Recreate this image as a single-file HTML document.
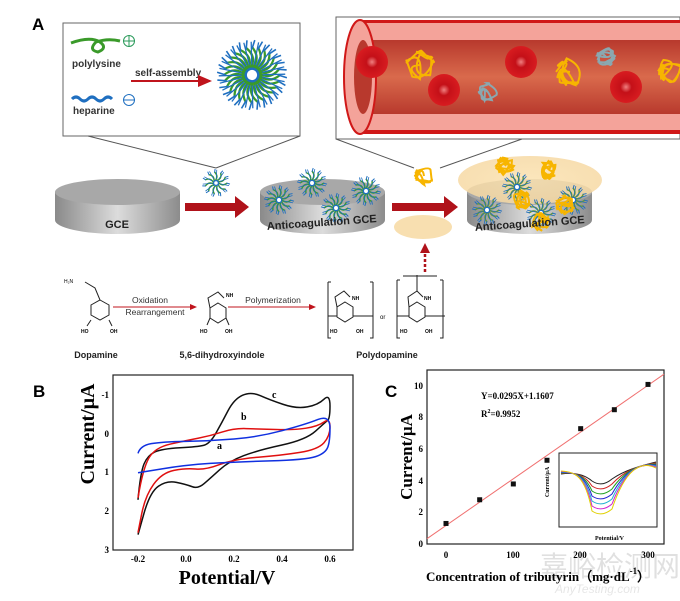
<!DOCTYPE html>
<html><head><meta charset="utf-8"><style>
html,body{margin:0;padding:0;background:#fff;}
svg{display:block;}
.s{font-family:"Liberation Sans",sans-serif;}
.r{font-family:"Liberation Serif",serif;font-weight:bold;}
</style></head><body>
<svg id="g" width="680" height="601" viewBox="0 0 680 601" xmlns="http://www.w3.org/2000/svg">
<defs>
<linearGradient id="disk" x1="0" x2="1" y1="0" y2="0"><stop offset="0" stop-color="#8a8a8a"/><stop offset="0.5" stop-color="#dcdcdc"/><stop offset="1" stop-color="#8c8c8c"/></linearGradient>
<linearGradient id="lumen" x1="0" y1="0" x2="0" y2="1"><stop offset="0" stop-color="#b8392d"/><stop offset="0.5" stop-color="#d96a4c"/><stop offset="1" stop-color="#b8392d"/></linearGradient>
<radialGradient id="rbc"><stop offset="0" stop-color="#f08080"/><stop offset="0.35" stop-color="#c41018"/><stop offset="1" stop-color="#d81c20"/></radialGradient>
<radialGradient id="glow"><stop offset="0" stop-color="#fbe2b0"/><stop offset="1" stop-color="#f6d9a4"/></radialGradient>
<marker id="ar" markerWidth="8" markerHeight="8" refX="6" refY="3" orient="auto"><path d="M0,0 L7,3 L0,6z" fill="#c0141c"/></marker>
</defs>
<text x="32" y="30" class="s" font-size="17" font-weight="bold">A</text>
<rect x="63" y="23" width="237" height="113" fill="#fff" stroke="#666" stroke-width="1"/>
<path d="M71,43 Q90,36 100,42 Q108,48 98,52 Q88,50 96,42 Q108,38 120,41" fill="none" stroke="#3a9a2a" stroke-width="3"/>
<circle cx="129" cy="41" r="5.5" fill="none" stroke="#2a9a5a"/><path d="M124,41h11M129,36v11" stroke="#2a9a5a"/>
<text x="72" y="67" class="s" font-size="10" font-weight="bold" fill="#333">polylysine</text>
<path d="M72,99 q4,-4 8,0 t8,0 t8,0 t8,0 t8,0" fill="none" stroke="#1f6fc0" stroke-width="3"/>
<circle cx="129" cy="100" r="5.5" fill="none" stroke="#1f6fc0"/><path d="M124,100h11" stroke="#1f6fc0"/>
<text x="73" y="114" class="s" font-size="10" font-weight="bold" fill="#333">heparine</text>
<text x="135" y="76" class="s" font-size="10" font-weight="bold" fill="#333">self-assembly</text>
<line x1="131" y1="81" x2="210" y2="81" stroke="#c0141c" stroke-width="2" marker-end="url(#ar)"/>
<g id="mic1"></g>
<line x1="88" y1="136" x2="216" y2="168" stroke="#555"/><line x1="300" y1="136" x2="216" y2="168" stroke="#555"/>
<rect x="336" y="17" width="344" height="122" fill="#fff" stroke="#666"/>
<rect x="360" y="20" width="320" height="114" fill="#f4a39a"/>
<rect x="360" y="20" width="320" height="3" fill="#d01818"/>
<rect x="360" y="130" width="320" height="4" fill="#d01818"/>
<rect x="362" y="40" width="318" height="74" fill="url(#lumen)"/>
<ellipse cx="360" cy="77" rx="16" ry="57" fill="#f4a39a" stroke="#d01818" stroke-width="2"/>
<ellipse cx="363" cy="77" rx="9" ry="37" fill="#b8392d"/>
<g fill="url(#rbc)">
<ellipse cx="372" cy="62" rx="16" ry="16"/><ellipse cx="444" cy="90" rx="16" ry="16"/><ellipse cx="521" cy="62" rx="16" ry="16"/><ellipse cx="626" cy="87" rx="16" ry="16"/>
</g>
<g id="tangles"></g>
<line x1="336" y1="139" x2="414" y2="168" stroke="#555"/><line x1="522" y1="139" x2="440" y2="168" stroke="#555"/>
<g id="disks"></g>
<text x="117" y="228" class="s" font-size="11" font-weight="bold" fill="#222" text-anchor="middle">GCE</text>
<text x="322" y="226" class="s" font-size="11" font-weight="bold" fill="#222" text-anchor="middle" transform="rotate(-4 322 226)">Anticoagulation GCE</text>
<text x="530" y="227" class="s" font-size="11" font-weight="bold" fill="#222" text-anchor="middle" transform="rotate(-4 530 227)">Anticoagulation GCE</text>
<path d="M185,203h50v-7l14,11l-14,11v-7h-50z" fill="#b0121a"/>
<path d="M392,203h52v-7l14,11l-14,11v-7h-52z" fill="#b0121a"/>
<ellipse cx="423" cy="227" rx="29" ry="12" fill="#f8dfb0"/>
<line x1="425" y1="272" x2="425" y2="252" stroke="#b0121a" stroke-width="2.5" stroke-dasharray="3,2"/>
<path d="M420,253l5,-10l5,10z" fill="#b0121a"/>
<g stroke="#222" stroke-width="1" fill="none">
<path d="M100,300 l9,5 v10 l-9,5 l-9,-5 v-10z"/><path d="M100,300 l-5,-12 l-10,-6"/>
<path d="M91,320 l-4,6 M109,320 l3,6"/>
<path d="M218,303 l8,5 v10 l-8,5 l-8,-5 v-10z"/><path d="M210,308 l-2,-10 l10,-6 l6,6"/>
<path d="M210,318 l-3,7 M226,318 l3,7"/>
<path d="M345,302 l8,5 v10 l-8,5 l-8,-5 v-10z"/><path d="M337,307 l-2,-10 l9,-6 l6,6"/><path d="M328,316h9 M353,316h20"/>
<path d="M328,282 v56 h3 M328,282 h3 M373,282 v56 h-3 M373,282h-3"/>
<path d="M417,302 l8,5 v10 l-8,5 l-8,-5 v-10z"/><path d="M409,307 l-1,-10 l9,-6 l6,6 M417,291 v-16"/><path d="M397,316h12 M425,316h20"/>
<path d="M397,280 v58 h3 M397,280 h3 M443,280 v58 h-3 M443,280h-3 M403,276 h34"/>
</g>
<text x="64" y="283" class="s" font-size="5">H₂N</text>
<text x="150" y="303" class="s" font-size="8.5" fill="#333" text-anchor="middle">Oxidation</text>
<text x="155" y="315" class="s" font-size="8.5" fill="#333" text-anchor="middle">Rearrangement</text>
<line x1="113" y1="307" x2="196" y2="307" stroke="#c0141c" stroke-width="1" marker-end="url(#ar)"/>
<text x="273" y="303" class="s" font-size="8.5" fill="#333" text-anchor="middle">Polymerization</text>
<line x1="228" y1="307" x2="315" y2="307" stroke="#c0141c" stroke-width="1" marker-end="url(#ar)"/>
<text x="380" y="319" class="s" font-size="6">or</text>
<g class="s" font-size="5" font-weight="bold"><text x="81" y="333">HO</text><text x="110" y="333">OH</text><text x="200" y="333">HO</text><text x="225" y="333">OH</text><text x="330" y="333">HO</text><text x="356" y="333">OH</text><text x="400" y="333">HO</text><text x="425" y="333">OH</text><text x="226" y="297">NH</text><text x="352" y="300">NH</text><text x="424" y="300">NH</text></g>
<text x="96" y="358" class="s" font-size="9" font-weight="bold" fill="#222" text-anchor="middle">Dopamine</text>
<text x="222" y="358" class="s" font-size="9" font-weight="bold" fill="#222" text-anchor="middle">5,6-dihydroxyindole</text>
<text x="387" y="358" class="s" font-size="9" font-weight="bold" fill="#222" text-anchor="middle">Polydopamine</text>
<text x="33" y="397" class="s" font-size="17" font-weight="bold">B</text>
<rect x="113" y="375" width="240" height="175" fill="none" stroke="#222" stroke-width="1.2"/>
<g class="r" font-size="9" text-anchor="end"><text x="109" y="398">-1</text><text x="109" y="437">0</text><text x="109" y="475">1</text><text x="109" y="514">2</text><text x="109" y="553">3</text></g>
<g class="r" font-size="9" text-anchor="middle"><text x="138" y="562">-0.2</text><text x="186" y="562">0.0</text><text x="234" y="562">0.2</text><text x="282" y="562">0.4</text><text x="330" y="562">0.6</text></g>
<text x="227" y="584" class="r" font-size="20" text-anchor="middle">Potential/V</text>
<text transform="translate(94 434) rotate(-90)" class="r" font-size="20" text-anchor="middle">Current/μA</text>
<g id="cv"></g>
<g class="r" font-size="10"><text x="272" y="398">c</text><text x="241" y="420">b</text><text x="217" y="449">a</text></g>
<text x="385" y="397" class="s" font-size="17" font-weight="bold">C</text>
<rect x="427" y="370" width="237" height="174" fill="none" stroke="#222" stroke-width="1.2"/>
<g class="r" font-size="9" text-anchor="end"><text x="423" y="389">10</text><text x="423" y="420">8</text><text x="423" y="452">6</text><text x="423" y="484">4</text><text x="423" y="515">2</text><text x="423" y="547">0</text></g>
<g class="r" font-size="9" text-anchor="middle"><text x="446" y="558">0</text><text x="513" y="558">100</text><text x="580" y="558">200</text><text x="648" y="558">300</text></g>
<text x="481" y="399" class="r" font-size="9">Y=0.0295X+1.1607</text>
<text x="481" y="417" class="r" font-size="9">R<tspan dy="-4" font-size="6">2</tspan><tspan dy="4">=0.9952</tspan></text>
<text x="426" y="581" class="r" font-size="13">Concentration of tributyrin（mg·dL<tspan dy="-7" font-size="9">-1</tspan><tspan dy="7">）</tspan></text>
<text transform="translate(412 457) rotate(-90)" class="r" font-size="17" text-anchor="middle">Current/μA</text>
<g id="cc"></g>
<rect x="559" y="453" width="98" height="74" fill="#fff" stroke="#222"/>
<g id="inset"></g>
<g class="r" font-size="6"><text x="595" y="540">Potential/V</text></g>
<text transform="translate(549 482) rotate(-90)" class="r" font-size="6" text-anchor="middle">Current/μA</text>
<text x="540" y="576" font-family="'Noto Sans CJK SC',sans-serif" font-size="28" fill="#000" fill-opacity="0.12">嘉峪检测网</text>
<text x="555" y="593" class="s" font-style="italic" font-size="12" fill="#000" fill-opacity="0.1">AnyTesting.com</text>
</svg>
<script>
const NS="http://www.w3.org/2000/svg";
function el(p,t,a){const e=document.createElementNS(NS,t);for(const k in a)e.setAttribute(k,a[k]);p.appendChild(e);return e;}
function micelle(p,cx,cy,r,sw,col2){
 const n=Math.max(10,Math.round(r*0.8));
 for(let i=0;i<n;i++){const a=i/n*Math.PI*2;const a2=a+0.5;const g=col2||'#3a9a2a';
  el(p,'path',{d:`M${cx+Math.cos(a)*r*0.2},${cy+Math.sin(a)*r*0.2} Q${cx+Math.cos(a2)*r*0.55},${cy+Math.sin(a2)*r*0.55} ${cx+Math.cos(a)*r*0.8},${cy+Math.sin(a)*r*0.8}`,fill:'none',stroke:g,'stroke-width':sw*1.4});
  el(p,'path',{d:`M${cx+Math.cos(a)*r*0.75},${cy+Math.sin(a)*r*0.75} L${cx+Math.cos(a+0.08)*r},${cy+Math.sin(a+0.08)*r}`,fill:'none',stroke:'#1f6fc0','stroke-width':sw});
  el(p,'path',{d:`M${cx+Math.cos(a+0.2)*r*0.3},${cy+Math.sin(a+0.2)*r*0.3} L${cx+Math.cos(a+0.2)*r*0.95},${cy+Math.sin(a+0.2)*r*0.95}`,fill:'none',stroke:'#1f6fc0','stroke-width':sw*0.8});}
 el(p,'circle',{cx,cy,r:r*0.18,fill:'#fff',stroke:'#1f6fc0','stroke-width':sw*1.5});
}
function tangle(p,cx,cy,s,col,seed){let d=`M${cx},${cy}`;let x=cx,y=cy;let r=seed;
 for(let i=0;i<10;i++){r=(r*9301+49297)%233280;const ang=r/233280*6.28;x=cx+Math.cos(ang)*s;y=cy+Math.sin(ang)*s;const ang2=ang+1.5;d+=` Q${cx+Math.cos(ang2)*s*1.2},${cy+Math.sin(ang2)*s*1.2} ${x},${y}`;}
 el(p,'path',{d,fill:'none',stroke:col,'stroke-width':2});}
micelle(document.getElementById('mic1'),252,75,35,1.6);
const tg=document.getElementById('tangles');
tangle(tg,420,65,14,'#f7b500',1);tangle(tg,570,72,14,'#f7b500',2);tangle(tg,670,70,12,'#f7b500',3);
tangle(tg,488,92,9,'#8aa8b0',4);tangle(tg,606,57,9,'#8aa8b0',5);
const dk=document.getElementById('disks');
[[55,180],[260,385],[467,592]].forEach(([a,b],i)=>{const cx=(a+b)/2,rx=(b-a)/2;
 el(dk,'path',{d:`M${a},192 v28 A${rx},14 0 0 0 ${b},220 v-28z`,fill:'url(#disk)'});
 el(dk,'ellipse',{cx,cy:192,rx,ry:13,fill:'#a8a8a8'});
});
el(dk,'ellipse',{cx:530,cy:180,rx:72,ry:24,fill:'url(#glow)','fill-opacity':0.85});
micelle(dk,216,183,14,1);
[[279,200],[312,183],[336,208],[366,191]].forEach(([x,y])=>micelle(dk,x,y,15,1));
[[487,210],[517,187],[541,213],[573,200]].forEach(([x,y])=>micelle(dk,x,y,15,1,'#6a9a2a'));
tangle(dk,424,176,9,'#f7b500',7);
[[505,166],[548,170],[522,200],[565,205],[540,222]].forEach(([x,y],i)=>tangle(dk,x,y,9,'#f7b500',10+i));
const cv=document.getElementById('cv');
function smooth(pts){const q=pts.map(p=>[186+p[0]*240,434+p[1]*38.7]);let d=`M${q[0][0]},${q[0][1]}`;
 for(let i=1;i<q.length-1;i++){const mx=(q[i][0]+q[i+1][0])/2,my=(q[i][1]+q[i+1][1])/2;d+=` Q${q[i][0]},${q[i][1]} ${mx},${my}`;}
 const l=q[q.length-1];d+=` L${l[0]},${l[1]}`;return d;}
const c=[[-0.2,1.7],[-0.19,1.0],[-0.16,0.55],[-0.1,0.38],[0.05,0.33],[0.1,0.25],[0.15,-0.3],[0.2,-0.9],[0.27,-1.1],[0.35,-0.88],[0.46,-0.65],[0.55,-0.75],[0.6,-1.05],[0.6,-0.4],[0.58,-0.3],[0.5,0.15],[0.3,0.42],[0.18,0.7],[0.1,1.15],[0.05,1.42],[0.0,1.3],[-0.08,1.2],[-0.15,1.5],[-0.2,2.6]];
const b=[[-0.2,1.65],[-0.18,0.9],[-0.13,0.35],[0,0.17],[0.1,0.05],[0.2,-0.15],[0.3,-0.13],[0.45,-0.1],[0.55,-0.2],[0.6,-0.42],[0.6,0.05],[0.55,0.4],[0.4,0.55],[0.2,0.65],[0.08,0.93],[0,0.88],[-0.1,1.0],[-0.17,1.6],[-0.2,2.55]];
const a=[[-0.2,0.5],[-0.19,0.3],[-0.1,0.2],[0.1,0.18],[0.3,0.08],[0.5,-0.25],[0.6,-0.5],[0.6,0.2],[0.58,0.5],[0.5,0.67],[0.2,0.72],[0,0.8],[-0.2,1.0]];
el(cv,'path',{d:smooth(c),fill:'none',stroke:'#111','stroke-width':1.5});
el(cv,'path',{d:smooth(b),fill:'none',stroke:'#e01010','stroke-width':1.5});
el(cv,'path',{d:smooth(a),fill:'none',stroke:'#1030e0','stroke-width':1.5});
const cc=document.getElementById('cc');
const X=v=>446+v*202/300,Y=v=>544-v*15.8;
el(cc,'line',{x1:427,y1:Y(0.0295*-28+1.1607),x2:664,y2:Y(0.0295*325+1.1607),stroke:'#f07070','stroke-width':1});
[[0,1.3],[50,2.8],[100,3.8],[150,5.3],[200,7.3],[250,8.5],[300,10.1]].forEach(([x,y])=>el(cc,'rect',{x:X(x)-2.5,y:Y(y)-2.5,width:5,height:5,fill:'#111'}));
const ins=document.getElementById('inset');
['#222','#d02020','#20a020','#2020d0','#20b0d0','#d020d0','#e0d000'].forEach((col,i)=>{
 const dep=485+i*5;
 el(ins,'path',{d:`M561,${474-i*0.5} C575,472 585,475 592,${dep-4} C598,${dep} 605,${dep} 612,${dep-6} C625,470 640,${466-i} 656,${462+i}`,fill:'none',stroke:col,'stroke-width':1});
});
</script>
</body></html>
